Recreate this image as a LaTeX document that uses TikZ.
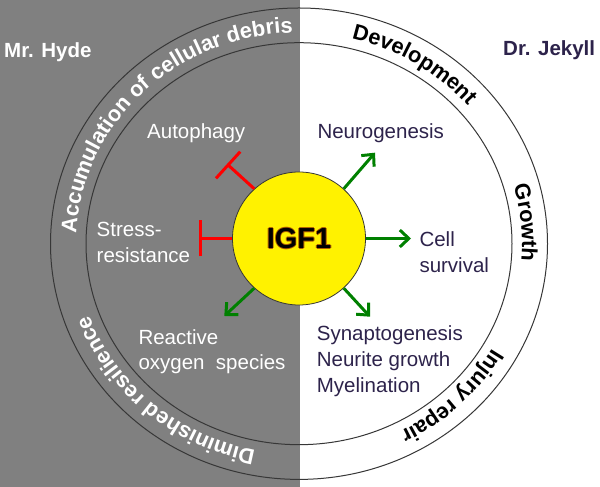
\documentclass[tikz,border=0pt]{standalone}
\usepackage{fontspec}
\setmainfont{Liberation Sans}
\usetikzlibrary{arrows.meta,decorations.text}
\definecolor{bggray}{RGB}{128,128,128}
\definecolor{navy}{RGB}{45,35,75}
\definecolor{ring}{RGB}{55,55,55}
\definecolor{arrgreen}{RGB}{0,128,0}
\definecolor{glow}{RGB}{175,95,0}
\newcommand\arcw{\fontsize{21.8}{21.8}\selectfont\bfseries\color{white}}
\newcommand\arcb{\fontsize{21.8}{21.8}\selectfont\bfseries\color{black}}
\tikzset{
  lab/.style={font=\fontsize{20.5}{25.7}\selectfont, inner sep=0pt, align=left, anchor=base west},
  side/.style={font=\fontsize{20.5}{24}\selectfont\bfseries, inner sep=0pt, anchor=base west},
  igft/.style={font=\fontsize{29}{29}\selectfont\bfseries, inner sep=0pt},
  grn/.style={draw=arrgreen, line width=3pt, -{Straight Barb[length=9pt,width=17pt]}},
  inh/.style={draw=red, line width=3pt, -{Bar[width=36pt]}},
  ringline/.style={draw=ring, line width=1pt},
}
\begin{document}
\begin{tikzpicture}[x=1pt,y=1pt]
\useasboundingbox (0,0) rectangle (600,487);
\fill[bggray] (0,0) rectangle (300,487);
\coordinate (C) at (299,243.3);
\draw[ringline] (C) ellipse [x radius=248.5pt, y radius=235.7pt];
\draw[ringline] (C) ellipse [x radius=213pt, y radius=201pt];
% arc texts
\path[decorate, decoration={text along path, text align=center,
  text={|\arcw|Accumulation of cellular debris}}]
  (C) ++(202:223pt and 211pt) arc[start angle=202, end angle=68, x radius=223pt, y radius=211pt];
\path[decorate, decoration={text along path, text align=center,
  text={|\arcb|Development}}]
  (C) ++(100:223pt and 211pt) arc[start angle=100, end angle=16, x radius=223pt, y radius=211pt];
\path[decorate, decoration={text along path, text align=center,
  text={|\arcb|Growth}}]
  (C) ++(40:223pt and 211pt) arc[start angle=40, end angle=-29, x radius=223pt, y radius=211pt];
\path[decorate, decoration={text along path, text align=center,
  text={|\arcb|Injury repair}}]
  (C) ++(-10:223pt and 211pt) arc[start angle=-10, end angle=-82, x radius=223pt, y radius=211pt];
\path[decorate, decoration={text along path, text align=center,
  text={|\arcw|Diminished resilience}}]
  (C) ++(270:223pt and 211pt) arc[start angle=270, end angle=188, x radius=223pt, y radius=211pt];
% side titles
\node[side, text=white] (hyde) at (4,429.3) {Mr. Hyde};
\node[side, text=navy] (jekyll) at (503,431.3) {Dr. Jekyll};
% central circle with outlined label
\node[circle, draw=ring, line width=0.8pt, fill=yellow, minimum size=133pt, inner sep=0pt] (igf) at (299,248.5) {};
\foreach \dx/\dy [count=\i] in {0.9/0,-0.9/0,0/0.9,0/-0.9}
  \node[igft, text=glow, xshift=\dx pt, yshift=\dy pt] (glow\i) at (igf) {IGF1};
\node[igft, text=black] (igflabel) at (igf) {IGF1};
% labels (base anchor = baseline of the last line)
\node[lab, text=white] (auto) at (147,348.7) {Autophagy};
\node[lab, text=white] (stress) at (96.5,224.3) {Stress-\\resistance};
\node[lab, text=white] (ros) at (138.3,117) {Reactive\\oxygen~~species};
\node[lab, text=navy] (neuro) at (317.3,348.7) {Neurogenesis};
\node[lab, text=navy] (cell) at (419.3,214.7) {Cell\\survival};
\node[lab, text=navy] (syn) at (316.7,94.7) {Synaptogenesis\\Neurite growth\\Myelination};
% connectors
\coordinate (ne) at (375,334.3);
\coordinate (ee) at (411,248.5);
\coordinate (se) at (370,170.3);
\coordinate (sw) at (224.3,171);
\coordinate (nwb) at (227,323);
\coordinate (wb) at (199,248.5);
\draw[grn] (igf.48) -- (ne);
\draw[grn] (igf.east) -- (ee);
\draw[grn] (igf.-48) -- (se);
\draw[grn] (igf.-132) -- (sw);
\draw[inh] (igf.132) -- (nwb);
\draw[inh] (igf.west) -- (wb);
\end{tikzpicture}
\end{document}
